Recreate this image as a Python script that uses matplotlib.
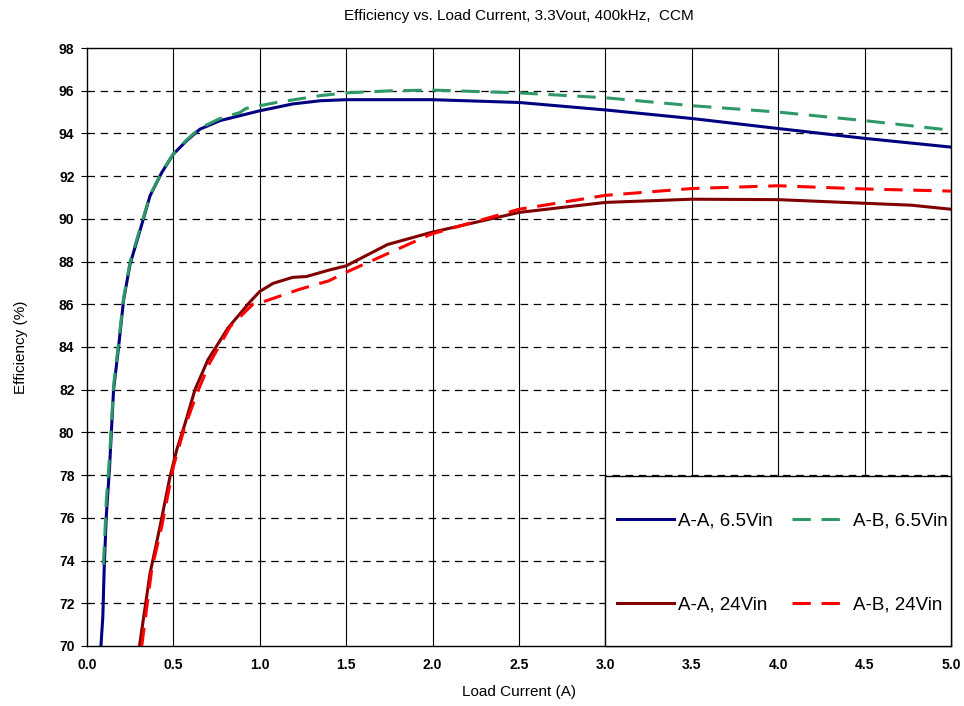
import numpy as np
import matplotlib.pyplot as plt
from matplotlib.patches import Rectangle

plt.rcParams['font.family'] = ['Liberation Sans', 'DejaVu Sans']

# A-A, 6.5Vin
aa65_x = [0.081, 0.092, 0.100, 0.112, 0.131, 0.154, 0.183, 0.212, 0.250, 0.298, 0.365, 0.433, 0.50,
          0.577, 0.654, 0.77, 1.0, 1.19, 1.35, 1.5, 2.0, 2.5, 3.0, 3.5, 4.0, 4.5, 5.0]
aa65_y = [70.0, 71.4, 73.7, 76.1, 78.4, 82.0, 84.0, 86.2, 87.9, 89.2, 91.08, 92.17, 93.03,
          93.66, 94.2, 94.6, 95.06, 95.38, 95.53, 95.58, 95.58, 95.45, 95.1, 94.7, 94.23, 93.77, 93.36]

# A-B, 6.5Vin
ab65_x = [0.095, 0.100, 0.112, 0.131, 0.154, 0.183, 0.212, 0.250, 0.298, 0.365, 0.433, 0.50,
          0.577, 0.654, 0.77, 0.885, 0.92, 1.096, 1.35, 1.5, 1.77, 2.0, 2.5, 3.0, 3.5, 4.0, 4.5, 5.0]
ab65_y = [73.8, 74.6, 76.8, 78.9, 82.2, 84.2, 86.3, 88.0, 89.3, 91.1, 92.2, 93.05,
          93.7, 94.25, 94.7, 94.98, 95.17, 95.45, 95.77, 95.9, 96.0, 96.03, 95.9, 95.67, 95.3, 95.0, 94.6, 94.15]

# A-A, 24Vin
aa24_x = [0.304, 0.365, 0.423, 0.48, 0.52, 0.567, 0.625, 0.70, 0.817, 0.942, 1.0, 1.077, 1.19,
          1.27, 1.40, 1.5, 1.74, 1.99, 2.5, 3.0, 3.5, 4.0, 4.5, 4.77, 5.0]
aa24_y = [70.0, 73.4, 75.6, 77.9, 79.2, 80.4, 82.0, 83.4, 84.9, 86.1, 86.6, 86.98, 87.26,
          87.3, 87.6, 87.8, 88.8, 89.36, 90.3, 90.77, 90.92, 90.9, 90.73, 90.64, 90.45]

# A-B, 24Vin
ab24_x = [0.317, 0.375, 0.433, 0.50, 0.56, 0.635, 0.71, 0.83, 0.96, 1.0, 1.115, 1.23, 1.40,
          1.5, 1.99, 2.5, 3.0, 3.5, 4.0, 4.5, 5.0]
ab24_y = [70.0, 73.6, 75.6, 78.4, 80.1, 81.8, 83.25, 84.97, 86.0, 86.06, 86.38, 86.7, 87.1,
          87.5, 89.28, 90.45, 91.1, 91.42, 91.55, 91.4, 91.3]

fig = plt.figure(figsize=(9.64, 7.06), dpi=100)
ax = fig.add_axes([0.0902, 0.085, 0.8963, 0.847])

for v in np.arange(0.5, 5.0, 0.5):
    ax.axvline(v, color='black', lw=0.8, zorder=1)
for h in np.arange(72, 98, 2):
    ax.axhline(h, color='black', lw=0.9, ls=(0, (6, 4.5)), zorder=1)

l1, = ax.plot(aa65_x, aa65_y, color='#000080', lw=2.2, zorder=3, label='A-A, 6.5Vin')
l2, = ax.plot(ab65_x, ab65_y, color='#2E9966', lw=2.2, ls=(0, (6, 3.5)), zorder=4, label='A-B, 6.5Vin')
l3, = ax.plot(aa24_x, aa24_y, color='#800000', lw=2.2, zorder=3, label='A-A, 24Vin')
l4, = ax.plot(ab24_x, ab24_y, color='#FF0000', lw=2.2, ls=(0, (6, 3.5)), zorder=4, label='A-B, 24Vin')

ax.set_xlim(0, 5)
ax.set_ylim(70, 98)
ax.set_xticks(np.arange(0, 5.01, 0.5))
ax.set_yticks(np.arange(70, 99, 2))
ax.set_xticklabels([f'{v:.1f}' for v in np.arange(0, 5.01, 0.5)], fontweight='bold', fontsize=10)
ax.set_yticklabels([str(v) for v in range(70, 99, 2)], fontweight='bold', fontsize=10)
ax.tick_params(axis='x', length=0, pad=9)
ax.tick_params(axis='y', length=4, direction='out', pad=5)
for s in ax.spines.values():
    s.set_linewidth(1.0)

ax.set_xlabel('Load Current (A)', fontsize=11, labelpad=9)
ax.set_ylabel('Efficiency (%)', fontsize=11, labelpad=22)
ax.set_title('Efficiency vs. Load Current, 3.3Vout, 400kHz,  CCM', fontsize=11, pad=20)

# legend box, drawn over the grid
box = Rectangle((0.6, 0.0), 0.4, 0.284, transform=ax.transAxes, facecolor='white',
                edgecolor='black', lw=1.0, zorder=9, clip_on=False)
ax.add_patch(box)
leg = ax.legend(handles=[l1, l3, l2, l4], ncol=2, loc='center',
                bbox_to_anchor=(0.805, 0.139), frameon=False,
                fontsize=13.5, borderaxespad=0, handlelength=3.0, handletextpad=0.25,
                labelspacing=3.6, columnspacing=1.0, borderpad=0)
leg.set_zorder(10)

fig.savefig('out.png', dpi=100)
